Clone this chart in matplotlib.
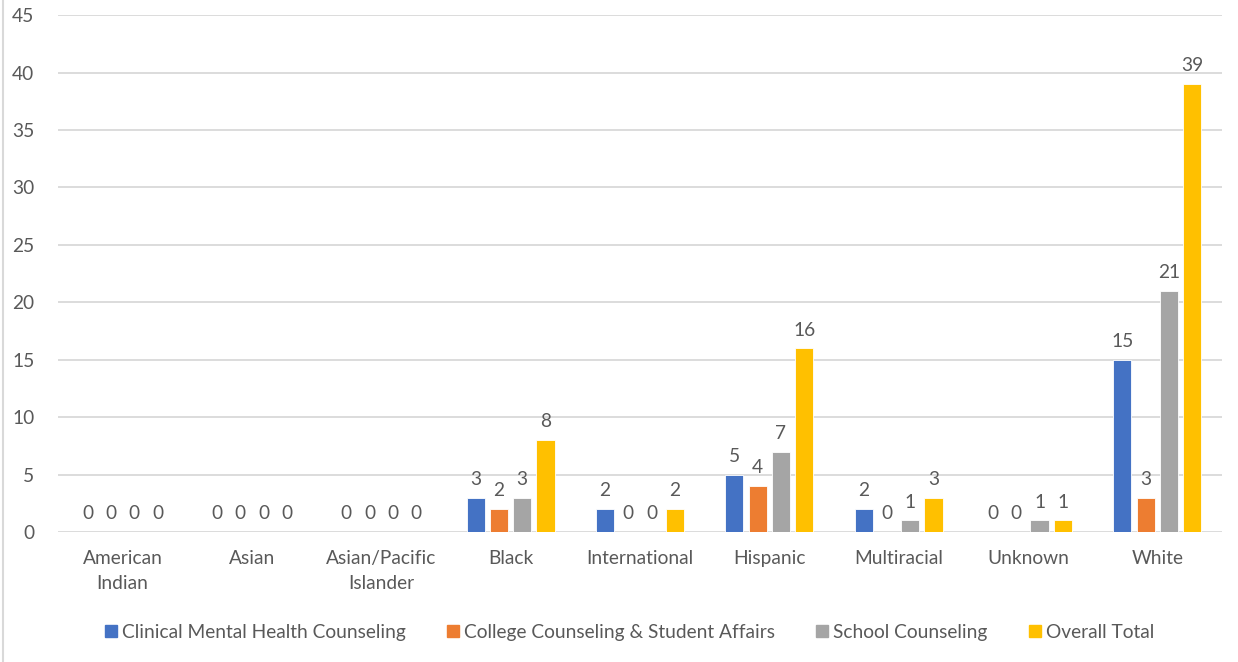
import matplotlib
matplotlib.use("Agg")
import matplotlib.pyplot as plt
import numpy as np
from matplotlib.lines import Line2D

categories = ["American\nIndian", "Asian", "Asian/Pacific\nIslander", "Black",
              "International", "Hispanic", "Multiracial", "Unknown", "White"]
series_names = ["Clinical Mental Health Counseling",
                "College Counseling & Student Affairs",
                "School Counseling", "Overall Total"]
clinical = [0, 0, 0, 3, 2, 5, 2, 0, 15]
college = [0, 0, 0, 2, 0, 4, 0, 0, 3]
school = [0, 0, 0, 3, 0, 7, 1, 1, 21]
overall = [0, 0, 0, 8, 2, 16, 3, 1, 39]
colors = ["#4472C4", "#ED7D31", "#A5A5A5", "#FFC000"]

plt.rcParams['font.family'] = ['Lato', 'DejaVu Sans']
text_color = "#595959"
grid_color = "#D9D9D9"
fs = 13.75

fig = plt.figure(figsize=(12.38, 6.62), dpi=100)
ax = fig.add_axes([0.0468, 0.1964, 0.9402, 0.7806])

x = np.arange(len(categories))
step = 0.18
width = 0.14
all_series = [clinical, college, school, overall]
for i, (vals, c) in enumerate(zip(all_series, colors)):
    pos = x + (i - 1.5) * step
    ax.bar(pos, vals, width=width, color=c, edgecolor="white", linewidth=0.6, zorder=3)
    for px, v in zip(pos, vals):
        ax.annotate(str(v), (px, v), xytext=(0, 7), textcoords="offset points",
                    ha="center", va="bottom", fontsize=fs, color=text_color)

ax.set_xlim(-0.5, len(categories) - 0.5)
ax.set_ylim(0, 45)
ax.set_yticks(range(0, 46, 5))
ax.set_xticks(x)
ax.set_xticklabels(categories, fontsize=fs, color=text_color, linespacing=1.55)
ax.tick_params(axis='both', length=0, labelsize=fs, labelcolor=text_color)
ax.tick_params(axis='y', pad=17)
ax.tick_params(axis='x', pad=13)
ax.yaxis.grid(True, color=grid_color, linewidth=1.3, zorder=0)
for s in ax.spines.values():
    s.set_visible(False)

handles = [Line2D([0], [0], marker='s', color='none', markerfacecolor=c,
                  markeredgecolor=c, markersize=9) for c in colors]
fig.legend(handles, series_names, loc='center', bbox_to_anchor=(0.507, 0.045),
           ncol=4, frameon=False, fontsize=fs, labelcolor=text_color,
           handletextpad=0.05, columnspacing=2.0, handlelength=1.0)

fig.add_artist(Line2D([3 / 1238, 3 / 1238], [0, 1], transform=fig.transFigure,
                      color="#D9D9D9", linewidth=1.5))

fig.savefig("out.png", dpi=100)
